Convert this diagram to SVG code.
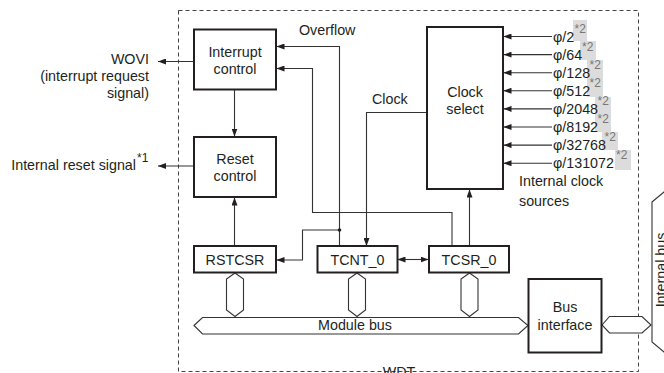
<svg xmlns="http://www.w3.org/2000/svg" width="664" height="373" viewBox="0 0 664 373">
<style>
text{font-family:"Liberation Sans",Arial,sans-serif;font-size:14.3px;fill:#231f20}
.c{text-anchor:middle}
.r{text-anchor:end}
.box{fill:#fff;stroke:#231f20;stroke-width:2}
.ln{fill:none;stroke:#333;stroke-width:1.1}
.bus{fill:#fff;stroke:#333;stroke-width:1.1}
.sup{font-size:12px;fill:#777}
.g{fill:#dcdcdc}
</style>
<defs>
<marker id="ah" markerUnits="userSpaceOnUse" markerWidth="8" markerHeight="6" refX="8" refY="3" orient="auto-start-reverse">
<path d="M0,0 L8,3 L0,6 z" fill="#231f20"/>
</marker>
</defs>
<rect x="178.5" y="10.5" width="460" height="361" fill="none" stroke="#444" stroke-width="1" stroke-dasharray="4,3"/>
<text class="c" x="399" y="376.5">WDT</text>
<g id="shading">
<rect class="g" x="573" y="20" width="14" height="21"/>
<rect class="g" x="580" y="41" width="16" height="19"/>
<rect class="g" x="587" y="60" width="16" height="37"/>
<rect class="g" x="595" y="97" width="16" height="35"/>
<rect class="g" x="602" y="132" width="16" height="18"/>
<rect class="g" x="615" y="150" width="16" height="20"/>
</g>
<g id="connectors">
<path class="ln" d="M194,61.5 H158" marker-end="url(#ah)"/>
<path class="ln" d="M194,166 H158" marker-end="url(#ah)"/>
<path class="ln" d="M234.5,89.5 V136.5" marker-end="url(#ah)"/>
<path class="ln" d="M234.5,246 V197.5" marker-end="url(#ah)"/>
<path class="ln" d="M339.5,246 V46.5 H276.5" marker-end="url(#ah)"/>
<path class="ln" d="M339.5,230 H302.5 V260 H276.5" marker-end="url(#ah)"/>
<circle cx="339.5" cy="230" r="1.8" fill="#231f20"/>
<path class="ln" d="M452,246 V212.5 H312.5 V68.5 H276.5" marker-end="url(#ah)"/>
<path class="ln" d="M427,112.5 H366.5 V246" marker-end="url(#ah)"/>
<path class="ln" d="M469.5,246 V189.5" marker-end="url(#ah)"/>
<path class="ln" d="M397.5,259.5 H428.5" marker-start="url(#ah)" marker-end="url(#ah)"/>
<path class="ln" d="M552,36.5 H503.5" marker-end="url(#ah)"/>
<path class="ln" d="M552,54.6 H503.5" marker-end="url(#ah)"/>
<path class="ln" d="M552,72.7 H503.5" marker-end="url(#ah)"/>
<path class="ln" d="M552,90.8 H503.5" marker-end="url(#ah)"/>
<path class="ln" d="M552,108.9 H503.5" marker-end="url(#ah)"/>
<path class="ln" d="M552,127 H503.5" marker-end="url(#ah)"/>
<path class="ln" d="M552,145.1 H503.5" marker-end="url(#ah)"/>
<path class="ln" d="M552,163.2 H503.5" marker-end="url(#ah)"/>
<polygon class="bus" points="235,273 243.5,279 243.5,310 235,316.5 226.5,310 226.5,279"/>
<polygon class="bus" points="357,273 365.5,279 365.5,310 357,316.5 348.5,310 348.5,279"/>
<polygon class="bus" points="469.5,273 478,279 478,310 469.5,316.5 461,310 461,279"/>
<polygon class="bus" points="194,325.5 202.5,317.5 518.5,317.5 528,325.5 518.5,334 202.5,334"/>
<polygon class="bus" points="602,325 609.5,316.5 642,316.5 651,325 642,333 609.5,333"/>
<polygon class="bus" points="652,202 664,192 676,202 676,342 664,352 652,342"/>
</g>
<text class="c" x="355" y="330">Module bus</text>
<text class="c" transform="translate(665.5,270) rotate(-90)">Internal bus</text>
<g id="labels">
<text class="r" x="149" y="64">WOVI</text>
<text class="r" x="149" y="81">(interrupt request</text>
<text class="r" x="149" y="98">signal)</text>
<text class="r" x="136" y="170">Internal reset signal</text>
<text class="sup" x="137" y="162" style="fill:#231f20">*1</text>
<text x="299" y="35">Overflow</text>
<text x="372" y="104">Clock</text>
<text x="519" y="186">Internal clock</text>
<text x="519" y="206">sources</text>
</g>
<g id="sources">
<text x="553" y="41.5">φ/2</text><text class="sup" x="574.5" y="32.5">*2</text>
<text x="553" y="59.6">φ/64</text><text class="sup" x="582" y="50.6">*2</text>
<text x="553" y="77.7">φ/128</text><text class="sup" x="589.5" y="68.7">*2</text>
<text x="553" y="95.8">φ/512</text><text class="sup" x="589.5" y="86.8">*2</text>
<text x="553" y="113.9">φ/2048</text><text class="sup" x="597.5" y="104.9">*2</text>
<text x="553" y="132">φ/8192</text><text class="sup" x="597.5" y="123">*2</text>
<text x="553" y="150.1">φ/32768</text><text class="sup" x="604.5" y="141.1">*2</text>
<text x="553" y="168.2">φ/131072</text><text class="sup" x="616" y="159.2">*2</text>
</g>
<g id="interrupt-control">
<rect class="box" x="194" y="29.5" width="82" height="60"/>
<text class="c" x="235" y="57">Interrupt</text>
<text class="c" x="235" y="74">control</text>
</g>
<g id="reset-control">
<rect class="box" x="194" y="137" width="82" height="60"/>
<text class="c" x="235" y="164">Reset</text>
<text class="c" x="235" y="181">control</text>
</g>
<g id="clock-select">
<rect class="box" x="427" y="27" width="76" height="162"/>
<text class="c" x="465" y="96.5">Clock</text>
<text class="c" x="465" y="113.5">select</text>
</g>
<g id="rstcsr">
<rect class="box" x="194" y="246" width="82" height="26.5"/>
<text class="c" x="235" y="265">RSTCSR</text>
</g>
<g id="tcnt0">
<rect class="box" x="317.5" y="246" width="80" height="26.5"/>
<text class="c" x="357.5" y="265">TCNT_0</text>
</g>
<g id="tcsr0">
<rect class="box" x="429" y="246" width="80" height="26.5"/>
<text class="c" x="469" y="265">TCSR_0</text>
</g>
<g id="bus-interface">
<rect class="box" x="528.5" y="279" width="73" height="73.5"/>
<text class="c" x="565" y="312">Bus</text>
<text class="c" x="565" y="330">interface</text>
</g>
</svg>
